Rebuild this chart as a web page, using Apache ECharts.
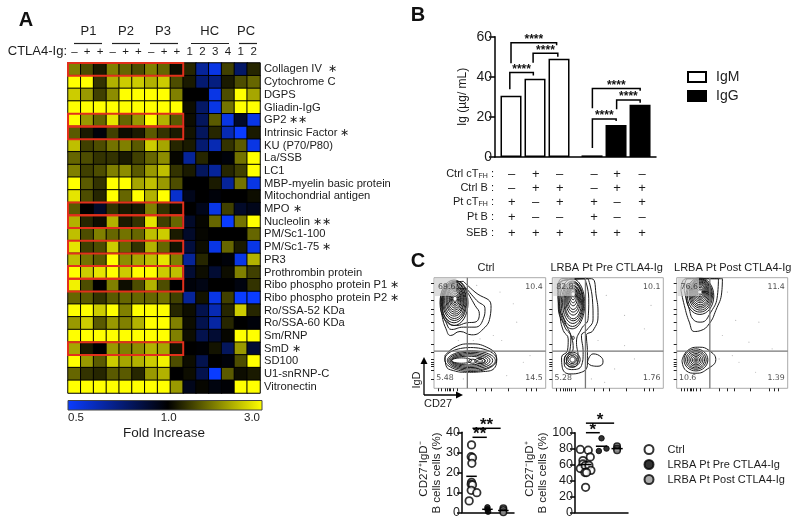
<!DOCTYPE html>
<html><head><meta charset="utf-8">
<style>html,body{margin:0;padding:0;background:#fff}#c{width:800px;height:525px}</style>
<script src="https://cdn.jsdelivr.net/npm/echarts@6/dist/echarts.min.js"></script>
</head><body><div id="c"></div>
<script>
const FONT='"Liberation Sans",Arial,sans-serif', INK='#1c1c1c';
/* ---------- A: heat map ---------- */
const antigens=['Collagen IV  ∗','Cytochrome C','DGPS','Gliadin-IgG','GP2 ∗∗','Intrinsic Factor ∗','KU (P70/P80)','La/SSB','LC1','MBP-myelin basic protein','Mitochondrial antigen','MPO ∗','Nucleolin ∗∗','PM/Sc1-100','PM/Sc1-75 ∗','PR3','Prothrombin protein','Ribo phospho protein P1 ∗','Ribo phospho protein P2 ∗','Ro/SSA-52 KDa','Ro/SSA-60 KDa','Sm/RNP','SmD ∗','SD100','U1-snRNP-C','Vitronectin'];
const sampleLabels=['–','+','+','–','+','+','–','+','+','1','2','3','4','1','2'];
const foldIncrease=[
[2,1.6,1.2,2,1.8,1.6,2,1.8,1.1,1.3,0.7,0.55,1.5,0.8,1.3],
[3,3,1.4,2.4,2.6,2.6,2.4,2.6,1.6,1.2,0.78,0.75,1.2,1.6,1.8],
[2.6,2.2,1.5,2.1,3,3,3,3,2,1,1,0.55,1.6,3,2.3],
[3,3,3,3,3,3,3,3,3,1.1,0.8,0.55,1.9,3,3],
[3,2.2,1.8,2.8,1.8,2.2,3,2.4,1.7,1.1,0.82,1.7,0.55,0.92,0.55],
[1.7,1.2,0.98,1.5,1.1,1.2,1.7,1.4,1.2,1.15,0.82,1.3,0.65,0.5,1.2],
[2.5,1.5,1.6,1.9,2,1.7,2.6,2.3,1.3,1.2,0.78,0.65,1.4,1.7,0.55],
[1.8,1.6,1.4,1.4,1.2,1.5,1.8,2.1,1.05,0.7,1.3,1,0.98,1.9,3],
[2,1.5,1.6,2,2.1,1.7,2.2,2.5,1.4,1.2,0.82,0.7,1.3,1.5,3],
[3,1.7,1.4,3,3,2.3,2.5,2.2,1.6,1,1,1.2,0.7,1.9,0.55],
[2.8,1.6,1.3,3,1.8,3,2.4,3,0.6,0.95,1,0.98,1,1,1.1],
[1.7,1,0.92,1.4,1.2,1.2,2,1.4,1.1,1,0.95,0.55,1.5,0.92,0.95],
[2.4,1.3,1.1,2.4,1.2,1.4,2.8,1.5,1.8,0.92,1.05,1.8,0.5,1.9,3],
[2.5,1.6,2,1.8,1.9,1.8,2.5,2.6,1.2,0.92,1.05,1,1,1,1.8],
[2.8,1.5,1.6,2.6,1.8,1.4,2.4,1.8,1.15,0.88,1.1,0.55,1.8,1.2,0.55],
[2.5,1.9,1.7,3,2.1,2.3,2.5,2.8,2,0.7,1.3,1,0.98,0.55,2.4],
[3,2.6,2.8,3,2.6,3,3,2.6,2.5,0.9,1.1,0.9,1.1,2,1.5],
[2.9,1.6,1,2,1.1,1.6,2.4,1.6,1,0.98,0.96,1,1,0.97,1.4],
[1.8,1.7,1.4,1.7,1.8,1.8,1.8,1.9,1.5,0.7,1.15,0.55,1.5,0.5,0.5],
[3,3,2.6,3,2,3,3,3,1.3,1.1,0.85,0.65,1.3,2.6,1.3],
[2.2,2.6,1.7,2.2,2,2.4,3,3,2,1.1,0.85,0.68,1.3,1,0.98],
[3,3,3,3,3,3,3,3,2,1.1,0.85,0.9,1.05,3,3],
[2.3,1.2,1,2.2,2,2.1,2.4,2.3,1.15,1,0.99,1.15,0.82,2.2,0.9],
[3,2.2,1.7,2.6,2.3,2.4,2.6,2.9,1.6,1.1,0.85,1,0.98,1.6,3],
[1.8,1.4,1.3,1.7,1.7,1.3,2.2,2.4,1,1.1,0.85,0.5,1.7,1.1,1.2],
[3,3,3,3,3,3,3,3,2.2,0.95,1.05,0.97,0.99,3,3]];
const redRows=[0,4,5,11,12,14,16,17,22];
const sampleGroups=[['P1',88.5,74,102],['P2',126,112,140],['P3',163,150,178],['HC',209.7,191,229],['PC',246,239,257]];
const foldTicks=[['0.5',76],['1.0',168.7],['3.0',252]];
/* ---------- B: bars ---------- */
const barPositions=[1,2,3,4.375,5.375,6.375];
const igm=[30.5,39,49], igg=[0.8,16,26];
const brackets=[[1,2.9,57,46.8,55.7],[1.92,2.95,51.7,47,50],[0.95,1.93,42.2,33.8,40.7],[4.39,6.38,34.2,24.3,33],[5.4,6.38,28.4,23.8,27],[4.39,5.38,19,4.5,18]];
const conditionRows=[['Ctrl cT','FH',['–','+','–','–','+','–']],['Ctrl B','',['–','+','+','–','+','+']],['Pt cT','FH',['+','–','+','+','–','+']],['Pt B','',['+','–','–','+','–','–']],['SEB','',['+','+','+','+','+','+']]];
/* ---------- C: flow plots (values read in plot units) ---------- */
const flowTitles=['Ctrl','LRBA Pt Pre CTLA4-Ig','LRBA Pt Post CTLA4-Ig'];
const quadrantValues=[['69.6','10.4','5.48','14.5'],['82.8','10.1','5.28','1.76'],['76.6','11.4','10.6','1.39']];
const gateX=112, gateY=237;
const ctrlRings=[[72,92,42,68],[72,90,38,62],[73,88,35,57],[73,87,32,52],[73,85,29,47],[74,84,26,42],[74,83,23,37],[74,82,20,32],[75,81,17,27],[75,80,14,22],[75,80,11,17],[75,80,8,12],[75,80,5,8],
 [122,262,78,36],[124,265,72,29],[122,265,66,25],[120,265,60,21],[118,265,55,17],[115,265,50,13],[95,265,30,8],[128,267,12,6],[150,266,16,8],[150,266,8,4]];
const ctrlOutlines=[
 [[100,28],[135,60],[183,100],[180,135],[155,175],[125,188],[90,178],[62,190],[48,170],[36,130],[32,90],[50,40],[100,28]],
 [[110,50],[140,85],[165,110],[160,140],[135,165],[100,165],[65,172],[50,155],[36,110],[50,50],[110,50]],
 [[112,60],[135,100],[148,125],[135,150],[110,152],[80,160],[55,150],[38,105],[50,50],[85,28],[112,60]],
 [[45,250],[75,225],[120,215],[170,225],[200,260],[195,285],[160,298],[110,300],[70,295],[48,280],[45,250]]];
const preRings=[[72,95,38,75],[73,95,34,68],[74,92,31,62],[75,90,28,56],[75,90,25,50],[75,85,22,44],[75,82,19,38],[75,80,16,32],[75,75,13,26],[75,72,10,20],[75,70,7,13],[75,68,4,7],[75,197,3,5],
 [72,262,24,22],[72,262,18,17],[72,262,13,12],[73,262,8,8]];
const preOutlines=[
 [[28,60],[40,20],[130,20],[145,75],[150,130],[135,175],[115,190],[118,240],[118,275],[100,300],[65,305],[42,285],[40,255],[58,235],[60,200],[45,175],[35,130],[28,60]],
 [[120,20],[133,80],[135,140],[115,175],[100,190],[105,240],[100,280],[70,292],[48,275],[50,255],[65,235],[68,195],[50,165],[30,100],[35,30],[120,20]],
 [[110,20],[122,80],[120,140],[100,170],[85,210],[90,255],[85,280],[70,285],[55,270],[60,250],[75,230],[70,195],[50,150],[35,100],[38,30],[110,20]],
 [[118,270],[135,245],[160,255],[165,270],[150,282],[130,280],[118,270]]];
const postRings=[[82,72,42,55],[82,70,38,50],[83,68,34,46],[83,66,31,42],[83,65,28,38],[83,64,25,34],[83,62,22,30],[83,61,19,26],[83,60,16,22],[83,60,13,18],[83,60,10,14],[83,60,7,9],[83,60,4,5],
 [70,263,36,33],[70,263,31,28],[70,263,26,24],[70,263,21,19],[70,263,16,15],[70,263,11,10],[70,263,6,6],[70,263,2.5,2.5]];
const postOutlines=[
 [[25,55],[40,20],[150,20],[148,60],[130,115],[110,155],[85,175],[65,178],[50,150],[35,100],[25,55]],
 [[35,55],[45,20],[138,20],[135,70],[115,120],[85,150],[65,145],[48,105],[35,55]],
 [[28,265],[45,235],[80,225],[110,235],[130,262],[105,290],[70,303],[40,295],[28,265]]];
const flowRings=[ctrlRings,preRings,postRings], flowOutlines=[ctrlOutlines,preOutlines,postOutlines];
const hotspots=[[75,80],[75,66],[82,60]];
const flowDots=[
 [[140,40],[210,60],[250,95],[190,190],[130,205],[215,205],[260,150],[230,310],[280,270],[85,205],[150,200],[100,320],[300,250]],
 [[175,70],[230,130],[150,205],[260,260],[200,290],[290,170],[170,330],[230,220],[130,320],[310,100]],
 [[165,60],[190,145],[150,190],[180,250],[230,210],[260,150],[140,260],[200,270],[300,230],[250,300]]];
const flowTickX=[25,35,45,52,57,62,70,82,140,165,185,235,290,305,318];
const flowTickY=[35,60,85,110,127,150,175,215,240,262,270,275,282,295,320];
/* ---------- C: dot plots ---------- */
const memCtrl=[[1,33.7],[0.98,27.8],[1.06,27.3],[1.02,24.5],[1,15],[0.98,14],[1.06,13.7],[0.98,11],[1.33,9.8],[0.85,5.7]];
const memPre=[[2,2.5],[2,1.5],[2.04,0.3]], memPost=[[3,2],[3,1.2],[3,0]];
const memMeans=[[1,18],[2,1.5],[3,0.9]], memStars=[[1.06,1.96,37.5,'**'],[1.06,2.83,42,'**']];
const navCtrl=[[0.64,79],[1.15,78],[1.28,69.5],[0.81,65],[0.81,60.7],[0.64,55],[0.96,58.6],[1.19,59],[1.32,52.7],[0.94,50],[1.04,50],[0.98,31.4]];
const navPre=[[2,93],[1.83,77],[2.32,80]], navPost=[[3,83],[3,80],[3,78]];
const navMeans=[[1,60],[2,83],[3,80]], navStars=[[1,1.89,100,'*'],[1,2.81,112,'*']];
const SN=['Ctrl','LRBA Pt Pre CTLA4-Ig','LRBA Pt Post CTLA4-Ig'];

/* ---------- option ---------- */
const grids=[{left:68,top:63,width:192,height:330},{left:495,top:36.7,width:161,height:120.3},
 {left:434,top:277.7,width:111.7,height:110.6},{left:552.3,top:277.7,width:111,height:110.6},{left:676.7,top:277.7,width:111,height:110.6},
 {left:462,top:432.3,width:52,height:80},{left:575,top:432.7,width:53,height:79.6}];
const blackAxis={lineStyle:{color:'#000',width:1.5}};
const xAxes=[
 {gridIndex:0,type:'category',position:'top',data:sampleLabels,axisLine:{show:false},axisTick:{show:false},axisLabel:{interval:0,margin:5,fontSize:11.5,fontFamily:FONT,color:INK}},
 {gridIndex:1,type:'value',min:0.333,max:7.04,axisLine:blackAxis,axisTick:{show:false},axisLabel:{show:false},splitLine:{show:false}}];
const yAxes=[
 {gridIndex:0,type:'category',inverse:true,position:'right',data:antigens,axisLine:{show:false},axisTick:{show:false},axisLabel:{interval:0,margin:4,fontSize:11.2,fontFamily:FONT,color:INK}},
 {gridIndex:1,type:'value',min:0,max:60,interval:20,name:'Ig (µg/ mL)',nameLocation:'middle',nameGap:26,nameTextStyle:{fontSize:12,fontFamily:FONT,color:INK},axisLine:{show:true,lineStyle:{color:'#000',width:1.5}},axisTick:{show:true,length:6,lineStyle:{color:'#000',width:1.5}},axisLabel:{margin:3,fontSize:14,fontFamily:FONT,color:INK},splitLine:{show:false}}];
for(let p=0;p<3;p++){
 xAxes.push({gridIndex:2+p,type:'value',min:12,max:347,axisLine:{show:false,onZero:false},splitLine:{show:false},axisLabel:{show:false},axisTick:{show:true,length:3,customValues:flowTickX,lineStyle:{color:'#222',width:1}}});
 yAxes.push({gridIndex:2+p,type:'value',min:17,max:348,inverse:true,axisLine:{show:false,onZero:false},splitLine:{show:false},axisLabel:{show:false},axisTick:{show:true,length:3,customValues:flowTickY,lineStyle:{color:'#222',width:1}}});
}
xAxes.push({gridIndex:5,type:'value',min:0.4,max:3.67,axisLine:blackAxis,axisTick:{show:false},axisLabel:{show:false},splitLine:{show:false}},
           {gridIndex:6,type:'value',min:0.3,max:3.7,axisLine:blackAxis,axisTick:{show:false},axisLabel:{show:false},splitLine:{show:false}});
const dotY=(max,iv)=>({type:'value',min:0,max:max,interval:iv,axisLine:{show:true,lineStyle:{color:'#000',width:1.5}},axisTick:{show:true,length:5,lineStyle:{color:'#000',width:1.5}},axisLabel:{margin:2,fontSize:12.5,fontFamily:FONT,color:INK},splitLine:{show:false}});
yAxes.push(Object.assign(dotY(40,10),{gridIndex:5}),Object.assign(dotY(100,20),{gridIndex:6}));

const series=[];
const flatHeat=[];
foldIncrease.forEach((r,y)=>r.forEach((v,x)=>flatHeat.push([x,y,v])));
series.push({type:'heatmap',xAxisIndex:0,yAxisIndex:0,data:flatHeat,itemStyle:{borderColor:'#000',borderWidth:1},silent:true});
series.push({type:'custom',xAxisIndex:0,yAxisIndex:0,z:5,silent:true,encode:{x:[0,1],y:2},data:redRows.map(r=>[0,8,r]),
 renderItem:(p,api)=>{const a=api.coord([api.value(0),api.value(2)]),b=api.coord([api.value(1),api.value(2)]),s=api.size([1,1]);
  return {type:'rect',shape:{x:a[0]-s[0]/2,y:a[1]-s[1]/2,width:b[0]-a[0]+s[0],height:s[1]},style:{fill:'none',stroke:'#e2301c',lineWidth:2}};}});
series.push({name:'IgM',type:'bar',xAxisIndex:1,yAxisIndex:1,barWidth:21,barGap:'-100%',data:barPositions.slice(0,3).map((x,i)=>[x,igm[i]]),itemStyle:{color:'#fff',borderColor:'#000',borderWidth:1.5}});
series.push({name:'IgG',type:'bar',xAxisIndex:1,yAxisIndex:1,barWidth:21,barGap:'-100%',data:barPositions.slice(3).map((x,i)=>[x,igg[i]]),itemStyle:{color:'#000',borderColor:'#000',borderWidth:1.5}});
series.push({type:'custom',xAxisIndex:1,yAxisIndex:1,z:6,silent:true,clip:false,encode:{x:[0,1],y:[2,3,4]},data:brackets,
 renderItem:(p,api)=>{const x0=api.value(0),x1=api.value(1),t=api.value(2);
  const A=api.coord([x0,api.value(3)]),B=api.coord([x0,t]),C=api.coord([x1,t]),D=api.coord([x1,api.value(4)]);
  return {type:'group',children:[
   {type:'polyline',shape:{points:[A,B,C,D]},style:{fill:'none',stroke:'#000',lineWidth:1.5}},
   {type:'text',x:(B[0]+C[0])/2,y:B[1]+3,style:{text:'****',align:'center',verticalAlign:'bottom',font:'bold 12px '+FONT,fill:'#111'}}]};}});
for(let p=0;p<3;p++){
 const xi=2+p;
 series.push({type:'scatter',xAxisIndex:xi,yAxisIndex:xi,silent:true,symbolSize:1.2,data:flowDots[p],itemStyle:{color:'#aaa'}});
 series.push({type:'custom',xAxisIndex:xi,yAxisIndex:xi,silent:true,clip:true,z:3,encode:{x:0,y:1},data:flowRings[p],
  renderItem:(q,api)=>{const c=api.coord([api.value(0),api.value(1)]),s=api.size([api.value(2),api.value(3)]);
   return {type:'ellipse',shape:{cx:c[0],cy:c[1],rx:Math.abs(s[0]),ry:Math.abs(s[1])},style:{fill:'none',stroke:'#1a1a1a',lineWidth:1}};}});
 flowOutlines[p].forEach(o=>series.push({type:'line',xAxisIndex:xi,yAxisIndex:xi,silent:true,z:3,smooth:0.5,showSymbol:false,data:o,lineStyle:{color:'#1a1a1a',width:1}}));
 series.push({type:'line',xAxisIndex:xi,yAxisIndex:xi,silent:true,z:4,showSymbol:false,data:[[gateX,17],[gateX,348]],lineStyle:{color:'#777',width:1.3}});
 series.push({type:'line',xAxisIndex:xi,yAxisIndex:xi,silent:true,z:4,showSymbol:false,data:[[12,gateY],[347,gateY]],lineStyle:{color:'#777',width:1.3}});
 series.push({type:'scatter',xAxisIndex:xi,yAxisIndex:xi,silent:true,z:6,symbolSize:3.5,data:[hotspots[p]],itemStyle:{color:'#fff'}});
 const anchor=[[47,45],[312,45],[45,318],[312,318]];
 series.push({type:'scatter',xAxisIndex:xi,yAxisIndex:xi,silent:true,z:5,symbolSize:0,
  data:anchor.map((a,i)=>({value:a,label:{show:true,position:'inside',formatter:quadrantValues[p][i],fontFamily:'"DejaVu Sans",sans-serif',fontSize:7.8,color:'#222',
   backgroundColor:i===0?'rgba(205,205,205,0.85)':'transparent',padding:i===0?[5,1,5,3]:0}}))});
}
const meanSeries=(xi,data,w)=>({type:'custom',xAxisIndex:xi,yAxisIndex:xi,silent:true,clip:false,z:7,encode:{x:0,y:1},data:data,
 renderItem:(q,api)=>{const a=api.coord([api.value(0)-w,api.value(1)]),b=api.coord([api.value(0)+w,api.value(1)]);
  return {type:'line',shape:{x1:a[0],y1:a[1],x2:b[0],y2:b[1]},style:{stroke:'#000',lineWidth:1.5}};}});
const starSeries=(xi,data)=>({type:'custom',xAxisIndex:xi,yAxisIndex:xi,silent:true,clip:false,z:7,encode:{x:[0,1],y:2},data:data,
 renderItem:(q,api)=>{const a=api.coord([api.value(0),api.value(2)]),b=api.coord([api.value(1),api.value(2)]);
  return {type:'group',children:[{type:'line',shape:{x1:a[0],y1:a[1],x2:b[0],y2:b[1]},style:{stroke:'#000',lineWidth:1.5}},
   {type:'text',x:(a[0]+b[0])/2,y:a[1]+6,style:{text:data[q.dataIndex][3],align:'center',verticalAlign:'bottom',font:'bold 17px '+FONT,fill:'#111'}}]};}});
const styleCtrl={color:'#fff',borderColor:'#000',borderWidth:1.8}, stylePre={color:'#000',borderColor:'#000',borderWidth:1}, stylePost={color:'#999',borderColor:'#000',borderWidth:1.5};
[[5,memCtrl,memPre,memPost,memMeans,memStars,0.33],[6,navCtrl,navPre,navPost,navMeans,navStars,0.36]].forEach(([xi,c,pr,po,m,st,w])=>{
 series.push({name:SN[0],type:'scatter',xAxisIndex:xi,yAxisIndex:xi,z:3,symbolSize:7.5,data:c,itemStyle:styleCtrl,clip:false});
 series.push({name:SN[1],type:'scatter',xAxisIndex:xi,yAxisIndex:xi,z:3,symbolSize:5.5,data:pr,itemStyle:stylePre,clip:false});
 series.push({name:SN[2],type:'scatter',xAxisIndex:xi,yAxisIndex:xi,z:3,symbolSize:6.5,data:po,itemStyle:stylePost,clip:false});
 series.push(meanSeries(xi,m,w)); series.push(starSeries(xi,st));
});

/* ---------- annotation ---------- */
const T=(text,x,y,size,opts)=>Object.assign({type:'text',x:x,y:y,silent:true,z:20,style:Object.assign({text:text,font:(opts&&opts.bold?'bold ':'')+size+'px '+FONT,fill:INK,align:'center',verticalAlign:'middle'},opts&&opts.style)},opts&&opts.el);
const L=(x1,y1,x2,y2,w,c)=>({type:'line',silent:true,z:20,shape:{x1,y1,x2,y2},style:{stroke:c||'#222',lineWidth:w||1}});
const g=[];
g.push(T('A',26,20,20,{bold:1,style:{fill:'#111'}}),T('B',418,15,20,{bold:1,style:{fill:'#111'}}),T('C',418,261,20,{bold:1,style:{fill:'#111'}}));
sampleGroups.forEach(([n,c,a,b])=>{g.push(T(n,c,31,13));g.push(L(a,43.5,b,43.5,1.2));});
g.push(T('CTLA4-Ig:',67,51.5,13,{style:{align:'right'}}));
g.push({type:'rect',silent:true,z:20,shape:{x:68,y:400.5,width:194,height:9.5},style:{stroke:'#444',lineWidth:1,fill:new echarts.graphic.LinearGradient(0,0,1,0,[{offset:0,color:'#0a3cff'},{offset:0.515,color:'#000'},{offset:1,color:'#ffff00'}])}});
foldTicks.forEach(([t,x])=>g.push(T(t,x,418,11.5)));
g.push(T('Fold Increase',164,433,13.5));
const markXs=[511.7,535.7,559.7,594,617,642], rowYs=[174,188,202,217,233];
conditionRows.forEach(([lab,sub,marks],i)=>{
 g.push({type:'text',silent:true,z:20,x:494,y:rowYs[i],style:{text:'{a|'+lab+'}'+(sub?'{s|'+sub+'}':'')+'{a| :}',align:'right',verticalAlign:'middle',rich:{a:{font:'11px '+FONT,fill:INK},s:{font:'7px '+FONT,fill:INK,verticalAlign:'bottom',padding:[5,0,0,0]}}}});
 marks.forEach((m,j)=>g.push(T(m,markXs[j],rowYs[i],13)));
});
flowTitles.forEach((t,i)=>g.push(T(t,[486,606.7,732.7][i],268,11)));
g.push(L(424,395,424,362,1.3,'#000'),L(424,395,458,395,1.3,'#000'));
g.push({type:'polygon',silent:true,z:20,shape:{points:[[424,357],[420.5,364],[427.5,364]]},style:{fill:'#000'}});
g.push({type:'polygon',silent:true,z:20,shape:{points:[[463,395],[456,391.5],[456,398.5]]},style:{fill:'#000'}});
g.push(T('IgD',417,380,11,{el:{rotation:Math.PI/2}}),T('CD27',438,404,11));
const rotLabel=(x,y,text)=>({type:'text',silent:true,z:20,x:x,y:y,rotation:Math.PI/2,style:{text:text,align:'center',verticalAlign:'middle',font:'11.5px '+FONT,fill:INK}});
g.push(rotLabel(424,469,'CD27⁺IgD⁻'),rotLabel(436.5,473,'B cells cells (%)'),rotLabel(530,469,'CD27⁻IgD⁺'),rotLabel(543,473,'B cells cells (%)'));

const chart=echarts.init(document.getElementById('c'),null,{renderer:'canvas'});
chart.setOption({
 animation:false,backgroundColor:'#fff',textStyle:{fontFamily:FONT},tooltip:{show:false},
 grid:grids.map((o,i)=>Object.assign({containLabel:false},o,(i>=2&&i<=4)?{show:true,borderColor:'#aaa',borderWidth:1,backgroundColor:'transparent'}:{})),
 xAxis:xAxes,yAxis:yAxes,series:series,
 visualMap:[{show:false,seriesIndex:0,dimension:2,min:0.5,max:3,inRange:{color:['#0a3cff','#000000','#404000','#808000','#bfbf00','#ffff00']}}],
 legend:[
  {data:['IgM','IgG'],left:687,top:70,padding:0,orient:'vertical',selectedMode:false,itemWidth:18,itemHeight:10,itemGap:5,icon:'rect',textStyle:{fontSize:14,fontFamily:FONT,color:INK,padding:[0,0,0,5]}},
  {data:SN,left:643.5,top:444,padding:0,orient:'vertical',selectedMode:false,itemWidth:9,itemHeight:9,itemGap:4,icon:'circle',textStyle:{fontSize:11,fontFamily:FONT,color:INK,padding:[0,0,0,9]}}],
 graphic:{elements:g}
});
</script></body></html>
